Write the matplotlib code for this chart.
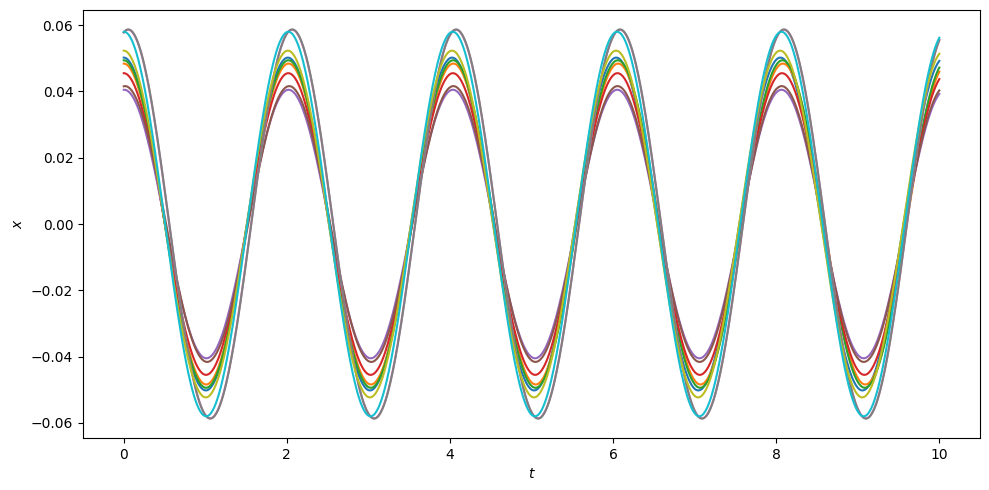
import numpy as np
import matplotlib
matplotlib.use("Agg")
import matplotlib.pyplot as plt

# Per-oscillator parameters (tab10 colour order C0..C9)
amplitudes = [0.0502, 0.0484, 0.0494, 0.0455, 0.0405, 0.0416, 0.0586, 0.0587, 0.0523, 0.0580]
initial_phase = [0.00, 0.00, 0.00, 0.00, 0.02, 0.05, 0.17, 0.175, 0.00, 0.01]
end_lag = [0.20, 0.32, 0.30, 0.28, 0.25, 0.25, 0.33, 0.33, 0.19, 0.25]
t_end = 10.0

t = np.linspace(0, t_end, 1001)

fig = plt.figure(figsize=(9.89, 4.9), dpi=100)
ax = fig.add_subplot(111)
fig.subplots_adjust(left=0.0839, right=0.991, top=0.9796, bottom=0.106)

for i, (A, phi, lag) in enumerate(zip(amplitudes, initial_phase, end_lag)):
    omega = (10 * np.pi - lag + phi) / t_end
    ax.plot(t, A * np.cos(omega * t - phi), color=f"C{i}", lw=1.5)

ax.set_xlabel("$t$")
ax.set_ylabel("$x$")
fig.savefig("out.png", dpi=100)
